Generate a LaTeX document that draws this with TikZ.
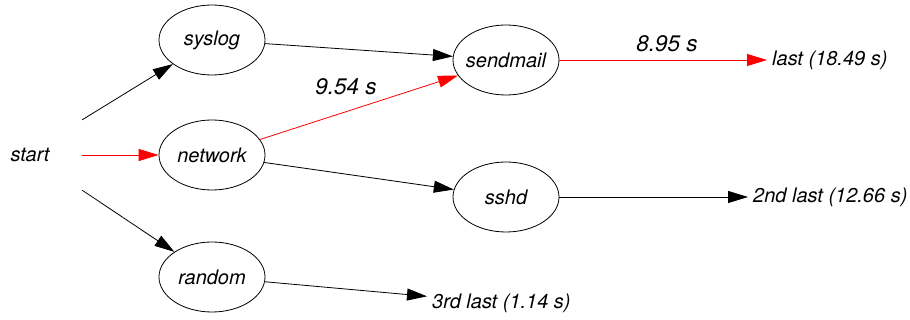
\documentclass[tikz,border=0pt]{standalone}
\usepackage{fontspec}
\setmainfont{TeX Gyre Heros}
\usetikzlibrary{arrows.meta,shapes.geometric}

\begin{document}
\begin{tikzpicture}[x=1pt,y=1pt,
    proc/.style={draw,ellipse,minimum width=106pt,minimum height=70pt,inner xsep=-8pt,inner ysep=0pt,line width=0.8pt,font=\fontsize{20}{24}\selectfont\itshape},
    tag/.style={inner sep=5pt,font=\fontsize{20}{24}\selectfont\itshape},
    flow/.style={-{Triangle[length=20pt,width=12pt]},line width=0.8pt},
    crit/.style={flow,red},
    secs/.style={font=\fontsize{22.5}{26}\selectfont\itshape}]
    \useasboundingbox (0,0) rectangle (910,-320);
    \node [minimum width=104pt,minimum height=70pt,inner sep=0pt,font=\fontsize{20}{24}\selectfont\itshape] (start) at (30,-155) {start};
    \node [proc] (syslog) at (212,-40) {syslog};
    \node [proc] (network) at (212,-155) {network};
    \node [proc] (random) at (212,-277) {random};
    \node [proc] (sendmail) at (506,-60) {sendmail};
    \node [proc] (sshd) at (506,-197) {sshd};
    \node [tag,anchor=west] (last) at (767,-60) {last (18.49 s)};
    \node [tag,anchor=west] (second) at (748,-197) {2nd last (12.66 s)};
    \node [tag,anchor=west] (third) at (427,-303) {3rd last (1.14 s)};
    \draw [flow] (start.north east) -- (syslog);
    \draw [crit] (start.east) -- (network);
    \draw [flow] (start.south east) -- (random);
    \draw [flow] (syslog) -- (sendmail);
    \draw [crit] (network) -- (sendmail);
    \draw [flow] (network) -- (sshd);
    \draw [crit] (sendmail) -- (last);
    \draw [flow] (sshd) -- (second);
    \draw [flow] (random) -- (third);
    % timings on the critical path
    \node [secs] (t1) at (346,-87) {9.54 s};
    \node [secs] (t2) at (667,-44) {8.95 s};
\end{tikzpicture}
\end{document}
